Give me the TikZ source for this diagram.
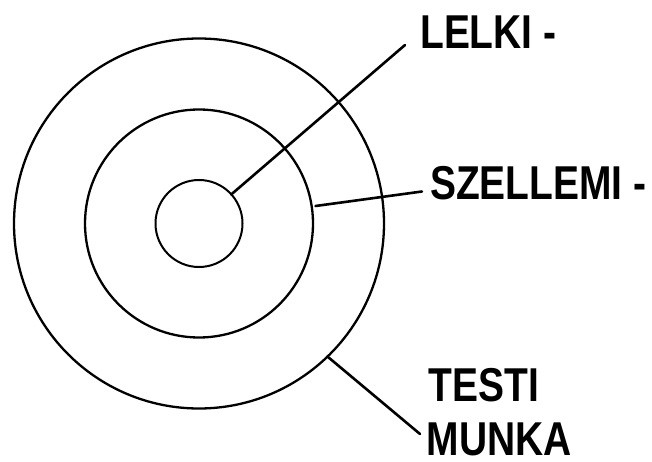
\documentclass[tikz,border=0pt]{standalone}
\usepackage{fontspec}
\newfontfamily\lab[FakeStretch=0.82,UprightFont={* Bold}]{Liberation Sans}
\begin{document}
\begin{tikzpicture}[x=1pt,y=-1pt,
  ring/.style={draw=black,circle,inner sep=0pt,outer sep=0pt,line width=2.3pt},
  lbl/.style={font=\lab\fontsize{47.5}{50}\selectfont,inner sep=0pt,anchor=base west,text=black},
  lead/.style={draw=black,line width=2.6pt,line cap=round}]
\useasboundingbox[fill=white] (0,0) rectangle (652,462);
\coordinate (c) at (199,223.5);
\node[ring,minimum size=370pt] (outer) at (c) {};
\node[ring,minimum size=228pt] (mid) at (c) {};
\node[ring,minimum size=87pt,line width=2pt] (inner) at (c) {};
\node[lbl] (lelki) at (420,49) {LELKI -};
\node[lbl] (szell) at (430,200) {SZELLEMI -};
\node[lbl] (testi) at (428.5,401.5) {TESTI};
\node[lbl] (munka) at (426.5,455) {MUNKA};
\coordinate (e1) at (405,45);
\coordinate (s2) at (315.5,206);
\coordinate (e2) at (422,191.5);
\coordinate (e3) at (420,434);
\draw[lead] (inner.42) -- (e1);
\draw[lead] (s2) -- (e2);
\draw[lead] (outer.-46) -- (e3);
\end{tikzpicture}
\end{document}
